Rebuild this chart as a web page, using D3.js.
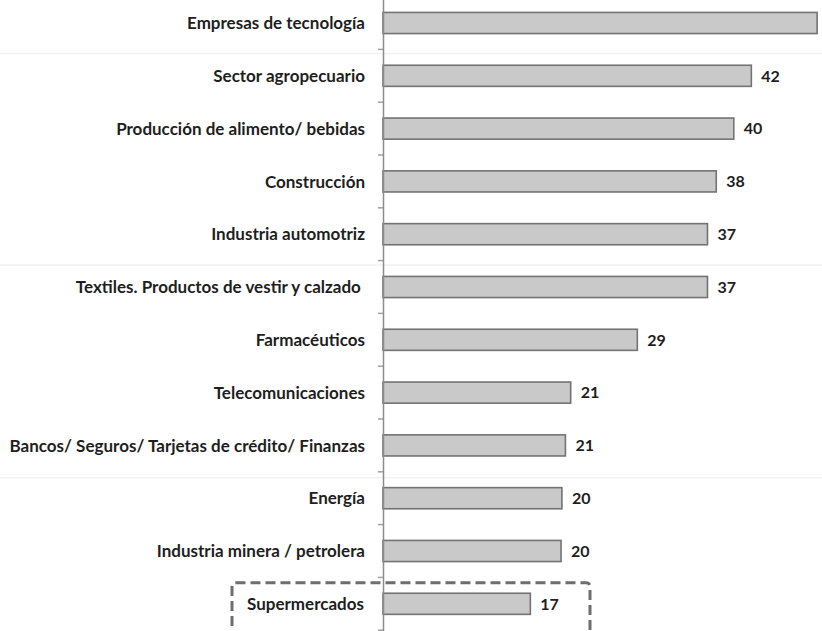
<!DOCTYPE html>
<html>
<head>
<meta charset="utf-8">
<script src="https://cdn.jsdelivr.net/npm/d3@7"></script>
<style>
  html, body { margin: 0; padding: 0; background: #fff; }
  svg { display: block; }
</style>
</head>
<body>
<script>
// sectores (de arriba hacia abajo)
var sectores = [
    "Empresas de tecnología",
    "Sector agropecuario",
    "Producción de alimento/ bebidas",
    "Construcción",
    "Industria automotriz",
    "Textiles. Productos de vestir y calzado ",
    "Farmacéuticos",
    "Telecomunicaciones",
    "Bancos/ Seguros/ Tarjetas de crédito/ Finanzas",
    "Energía",
    "Industria minera / petrolera",
    "Supermercados"
];
var valores = [49.5, 42, 40, 38, 37, 37, 29, 21.4, 20.8, 20.4, 20.3, 16.8];
var destacado = "Supermercados";

var w = 822;
var h = 631;
var ejeX = 383;

var svg = d3.select("body").append("svg").attr("width", w).attr("height", h);

// escalas
var xScale = d3.scaleLinear().domain([0, 50]).range([ejeX, ejeX + 50 * 8.77]);
var yScale = d3.scaleBand().domain(sectores).range([-3.4, 630.2]).paddingInner(0.6).paddingOuter(0.3);
var paso = yScale.step();

// lineas tenues de fondo
svg.selectAll("line.tenue")
    .data([[1, 4], [5, 4.5], [9, 6]])
    .enter()
    .append("line")
    .attr("class", "tenue")
    .attr("x1", 0)
    .attr("x2", w)
    .attr("y1", function (d) { return yScale(sectores[d[0]]) - paso * 0.3 + d[1]; })
    .attr("y2", function (d) { return yScale(sectores[d[0]]) - paso * 0.3 + d[1]; })
    .style("stroke", "#f2f2f2")
    .style("stroke-width", 1.5);

// barras
svg.selectAll("rect.barra")
    .data(valores)
    .enter()
    .append("rect")
    .attr("class", "barra")
    .attr("x", xScale(0))
    .attr("y", function (d, i) { return yScale(sectores[i]); })
    .attr("width", function (d) { return xScale(d) - xScale(0); })
    .attr("height", yScale.bandwidth())
    .attr("fill", "#c9c9c9")
    .attr("stroke", "#737373")
    .attr("stroke-width", 1.6);

// valores (el de la primera barra queda fuera del recorte)
svg.selectAll("text.valor")
    .data(valores.map(function (d, i) { return { v: d, s: sectores[i] }; })
        .filter(function (d) { return xScale(d.v) + 30 < w; }))
    .enter()
    .append("text")
    .attr("class", "valor")
    .text(function (d) { return Math.round(d.v); })
    .attr("x", function (d) { return xScale(d.v) + 10; })
    .attr("y", function (d) { return yScale(d.s) + yScale.bandwidth() / 2; })
    .attr("dy", "0.36em")
    .attr("font-family", "Lato, sans-serif")
    .attr("font-weight", 700)
    .attr("font-size", "16px")
    .attr("fill", "#1e1e1e");

// eje vertical
var eje = d3.axisLeft(yScale).tickSize(5).tickSizeOuter(0).tickFormat("");
var gEje = svg.append("g").attr("transform", "translate(" + ejeX + ",0)").call(eje);
gEje.select(".domain").attr("d", "M0.5,-5V" + (h + 5)).style("stroke", "#8c8c8c").style("stroke-width", 1.5);
// marcas entre categorias
gEje.selectAll(".tick line")
    .attr("transform", "translate(0," + (paso / 2) + ")")
    .style("stroke", "#a0a0a0")
    .style("stroke-width", 1.5);

// etiquetas
svg.selectAll("text.etiqueta")
    .data(sectores)
    .enter()
    .append("text")
    .attr("class", "etiqueta")
    .text(function (d) { return d; })
    .attr("x", function (d) { return d === destacado ? 247 : ejeX - 18; })
    .attr("y", function (d) { return yScale(d) + yScale.bandwidth() / 2; })
    .attr("dy", "0.36em")
    .attr("text-anchor", function (d) { return d === destacado ? "start" : "end"; })
    .attr("font-family", "Lato, sans-serif")
    .attr("font-weight", 700)
    .attr("font-size", "17px")
    .attr("fill", "#1e1e1e")
    .style("white-space", "pre");

// recuadro punteado
var yRec = yScale(destacado) + yScale.bandwidth() / 2 - 21;
svg.append("path")
    .attr("d", "M232," + (h + 10) + "V" + (yRec + 4) + "Q232," + yRec + " 236," + yRec +
        "H586Q590," + yRec + " 590," + (yRec + 4) + "V" + (h + 10))
    .attr("fill", "none")
    .attr("stroke", "#6e6e6e")
    .attr("stroke-width", 3)
    .attr("stroke-dasharray", "10,5");
</script>
</body>
</html>
